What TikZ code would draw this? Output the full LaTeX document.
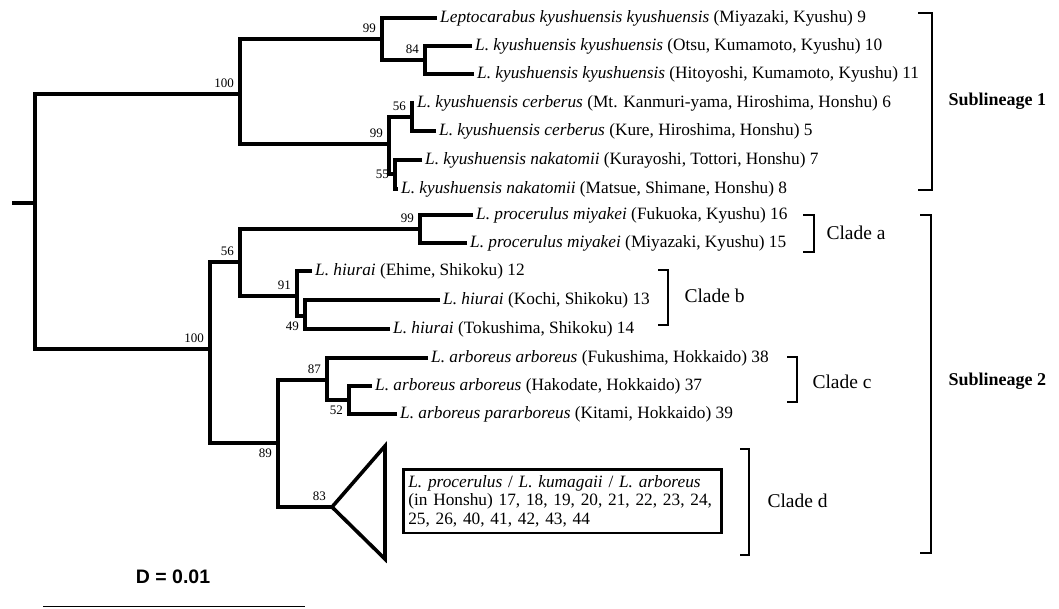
\documentclass[tikz,border=0pt]{standalone}
\usepackage{fontspec}
\setmainfont{Liberation Serif}
\setsansfont{Liberation Sans}
\usetikzlibrary{calc}
\def\cladebracket(#1,#2,#3,#4){\draw[brak] (#1-#4,#2) -- (#1,#2) -- (#1,#3) -- (#1-#4,#3);}

\begin{document}
\begin{tikzpicture}[x=1pt,y=-1pt,
	branch/.style={line width=3.2pt},
	brak/.style={line width=2.4pt},
	leaf/.style={anchor=west, inner xsep=3pt, inner ysep=0pt, text height=11.5pt, text depth=3.5pt, font=\fontsize{17.3}{18}\selectfont},
	boot/.style={inner xsep=6pt, inner ysep=6pt, font=\fontsize{13}{14}\selectfont},
	cladelab/.style={anchor=west, font=\fontsize{19.5}{21}\selectfont},
	sublab/.style={anchor=west, font=\fontsize{18}{20}\selectfont\bfseries}]
			%%%%% START %%%%%
			\useasboundingbox (0,0) rectangle (1059,608);
			
			\coordinate (stub) at (12,203);
			\coordinate (root) at (35,203);
			\coordinate[label={[boot]above left:100}] (n100a) at (240,94);
			\coordinate[label={[boot]above left:99}] (n99a) at (382,39);
			\coordinate[label={[boot]above left:84}] (n84) at (425,60);
			\coordinate[label={[boot]above left:99}] (n99b) at (389,144);
			\coordinate[label={[boot]above left:56}] (n56a) at (412,117);
			\coordinate[label={[boot]left:55}] (n55) at (395,174);
			\coordinate[label={[boot]above left:100}] (n100b) at (210,349);
			\coordinate[label={[boot]above left:56}] (n56b) at (240,262);
			\coordinate[label={[boot]above left:99}] (n99c) at (420,229);
			\coordinate[label={[boot]above left:91}] (n91) at (297,296);
			\coordinate[label={[boot]below left:49}] (n49) at (305,316);
			\coordinate[label={[boot]below left:89}] (n89) at (278,443);
			\coordinate[label={[boot]above left:87}] (n87) at (327,380);
			\coordinate[label={[boot]below left:52}] (n52) at (349,400);
			\coordinate[label={[boot]above left:83}] (n83) at (332,507);
			
			\node[leaf] (t9) at (437,18) {\textit{Leptocarabus kyushuensis kyushuensis} (Miyazaki, Kyushu) 9};
			\node[leaf] (t10) at (472,46) {\textit{L. kyushuensis kyushuensis} (Otsu, Kumamoto, Kyushu) 10};
			\node[leaf] (t11) at (474,74) {\textit{L. kyushuensis kyushuensis} (Hitoyoshi, Kumamoto, Kyushu) 11};
			\node[leaf] (t6) at (414,103) {\textit{L. kyushuensis cerberus} (Mt. Kanmuri-yama, Hiroshima, Honshu) 6};
			\node[leaf] (t5) at (436,131) {\textit{L. kyushuensis cerberus} (Kure, Hiroshima, Honshu) 5};
			\node[leaf] (t7) at (422,160) {\textit{L. kyushuensis nakatomii} (Kurayoshi, Tottori, Honshu) 7};
			\node[leaf] (t8) at (398,189) {\textit{L. kyushuensis nakatomii} (Matsue, Shimane, Honshu) 8};
			\node[leaf] (t16) at (473,215) {\textit{L. procerulus miyakei} (Fukuoka, Kyushu) 16};
			\node[leaf] (t15) at (467,243) {\textit{L. procerulus miyakei} (Miyazaki, Kyushu) 15};
			\node[leaf] (t12) at (312,271) {\textit{L. hiurai} (Ehime, Shikoku) 12};
			\node[leaf] (t13) at (440,300) {\textit{L. hiurai} (Kochi, Shikoku) 13};
			\node[leaf] (t14) at (390,329) {\textit{L. hiurai} (Tokushima, Shikoku) 14};
			\node[leaf] (t38) at (428,358) {\textit{L. arboreus arboreus} (Fukushima, Hokkaido) 38};
			\node[leaf] (t37) at (372,386) {\textit{L. arboreus arboreus} (Hakodate, Hokkaido) 37};
			\node[leaf] (t39) at (397,414) {\textit{L. arboreus pararboreus} (Kitami, Hokkaido) 39};
			
			% tree
			\draw[branch] (stub) -- (root);
			\draw[branch] (n100a) -| (root);
			\draw[branch] (n100b) -| (root);
			\draw[branch] (n99a) -| (n100a);
			\draw[branch] (n99b) -| (n100a);
			\draw[branch] (t9.west) -| (n99a);
			\draw[branch] (n84) -| (n99a);
			\draw[branch] (t10.west) -| (n84);
			\draw[branch] (t11.west) -| (n84);
			\draw[branch] (n56a) -| (n99b);
			\draw[branch] (n55) -| (n99b);
			\draw[branch] (t6.west) -| (n56a);
			\draw[branch] (t5.west) -| (n56a);
			\draw[branch] (t7.west) -| (n55);
			\draw[branch] (t8.west) -| (n55);
			\draw[branch] (n56b) -| (n100b);
			\draw[branch] (n89) -| (n100b);
			\draw[branch] (n99c) -| (n56b);
			\draw[branch] (n91) -| (n56b);
			\draw[branch] (t16.west) -| (n99c);
			\draw[branch] (t15.west) -| (n99c);
			\draw[branch] (t12.west) -| (n91);
			\draw[branch] (n49) -| (n91);
			\draw[branch] (t13.west) -| (n49);
			\draw[branch] (t14.west) -| (n49);
			\draw[branch] (n87) -| (n89);
			\draw[branch] (n83) -| (n89);
			\draw[branch] (t38.west) -| (n87);
			\draw[branch] (n52) -| (n87);
			\draw[branch] (t37.west) -| (n52);
			\draw[branch] (t39.west) -| (n52);
			
			% collapsed clade d
			\coordinate (tritop) at (385,446);
			\coordinate (tribot) at (385,559);
			\draw[branch, line width=3.6pt] (n83) -- (tritop) -- (tribot) -- cycle;
			\node[draw, line width=2.6pt, anchor=north west, inner xsep=5pt, inner ysep=6pt, text width=308pt, align=left, font=\fontsize{17.3}{18.5}\selectfont] (box) at (402,468) {\textit{L. procerulus} / \textit{L. kumagaii} / \textit{L. arboreus}\\(in Honshu) 17, 18, 19, 20, 21, 22, 23, 24,\\25, 26, 40, 41, 42, 43, 44};
			
			% brackets
			\cladebracket(932,13,190,14)
			\cladebracket(931,215,553,11)
			\cladebracket(814,215,252,11)
			\cladebracket(668,270,325,10)
			\cladebracket(797,357,402,10)
			\cladebracket(749,449,555,9)
			\node[sublab] (sub1) at (945,101) {Sublineage 1};
			\node[sublab] (sub2) at (945,381) {Sublineage 2};
			\node[cladelab] (cla) at (823,233) {Clade a};
			\node[cladelab] (clb) at (681,296) {Clade b};
			\node[cladelab] (clc) at (809,382) {Clade c};
			\node[cladelab] (cld) at (764,501) {Clade d};
			
			% scale
			\node[font=\fontsize{19.5}{21}\selectfont\sffamily\bfseries] (dlab) at (173,577) {D = 0.01};
			\coordinate (barl) at (43,606.5);
			\coordinate (barr) at (305,606.5);
			\draw[line width=1.6pt] (barl) -- (barr);
			%%%%% END %%%%%
		\end{tikzpicture}
\end{document}
